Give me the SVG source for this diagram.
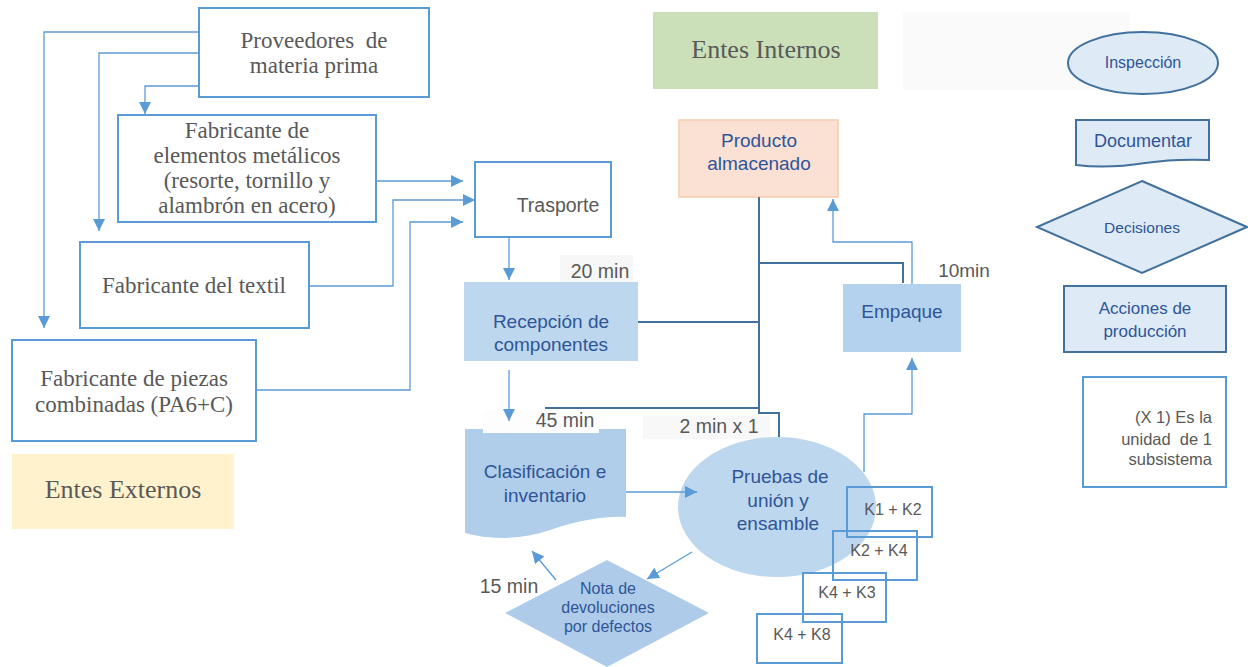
<svg xmlns="http://www.w3.org/2000/svg" width="1248" height="667" viewBox="0 0 1248 667">
<defs>
<marker id="ah" viewBox="0 0 10 10" refX="10" refY="5" markerWidth="12" markerHeight="12" markerUnits="userSpaceOnUse" orient="auto"><path d="M0,0 L10,5 L0,10 Z" fill="#5B9BD5"/></marker>
<style>
.ext{fill:#fff;stroke:#5B9BD5;stroke-width:2}
.ser{font-family:"Liberation Serif",serif;font-size:23px;fill:#595959;text-anchor:middle}
.sans{font-family:"Liberation Sans",Arial,sans-serif;fill:#595959;text-anchor:middle}
.blue{font-family:"Liberation Sans",Arial,sans-serif;fill:#2F5597;text-anchor:middle}
.lc{fill:none;stroke:#5B9BD5;stroke-width:1.3}
.dc{fill:none;stroke:#41719C;stroke-width:2}
.kb{fill:none;stroke:#5B9BD5;stroke-width:2}
.leg{fill:#DEEBF7;stroke:#41719C;stroke-width:2}
</style>
</defs>
<rect width="1248" height="667" fill="#fff"/>

<g id="proveedores"><rect class="ext" x="199" y="8" width="230" height="89"/>
<text class="ser" x="314" y="48" xml:space="preserve">Proveedores  de</text><text class="ser" x="314" y="73">materia prima</text></g>

<g id="fab-metalicos"><rect class="ext" x="118" y="115" width="258" height="107"/>
<text class="ser" x="247" y="138">Fabricante de</text><text class="ser" x="247" y="163">elementos metálicos</text>
<text class="ser" x="247" y="188">(resorte, tornillo y</text><text class="ser" x="247" y="213">alambrón en acero)</text></g>

<g id="fab-textil"><rect class="ext" x="80" y="242" width="229" height="86"/>
<text class="ser" x="194" y="293">Fabricante del textil</text></g>

<g id="fab-piezas"><rect class="ext" x="12" y="340" width="244" height="101"/>
<text class="ser" x="134" y="386">Fabricante de piezas</text><text class="ser" x="134" y="412">combinadas (PA6+C)</text></g>

<g id="entes-externos"><rect x="12" y="454" width="222" height="75" fill="#FFF2CC"/>
<text class="ser" x="123" y="498" font-size="26" style="font-size:26px">Entes Externos</text></g>

<g id="entes-internos"><rect x="653" y="12" width="225" height="77" fill="#CBE0B9"/>
<text class="ser" x="766" y="58" style="font-size:26px">Entes Internos</text></g>

<g id="blank"><rect x="903" y="12" width="227" height="78" fill="#FAFAFA"/></g>

<g id="trasporte"><rect class="ext" x="475" y="162" width="136" height="75"/>
<text class="sans" x="558" y="212" font-size="19.5">Trasporte</text></g>

<g id="label-20"><rect x="560" y="255" width="73" height="27" fill="#F7F7F7"/>
<text class="sans" x="600" y="278" font-size="19.5">20 min</text></g>

<g id="recepcion"><rect x="464" y="282" width="174" height="79" fill="#BDD7EE"/>
<text class="blue" x="551" y="328" font-size="19">Recepción de</text><text class="blue" x="551" y="351" font-size="19">componentes</text></g>

<g id="clasificacion"><path d="M465,429 H626 V517 C605,516 580,520 550,530 C520,540 490,540 465,533 Z" fill="#B0CDEA"/>
<text class="blue" x="545" y="478" font-size="19">Clasificación e</text><text class="blue" x="545" y="502" font-size="19">inventario</text></g>

<g id="label-45"><rect x="483" y="410" width="116" height="23" fill="#FDFDFD"/>
<text class="sans" x="565" y="427" font-size="19.5">45 min</text></g>

<g id="label-2min"><rect x="643" y="416" width="127" height="23" fill="#F8F8F8"/>
<text class="sans" x="719" y="433" font-size="19.5">2 min x 1</text></g>

<g id="pruebas"><ellipse cx="777" cy="507" rx="99" ry="70" fill="#BDD7EE"/>
<text class="blue" x="780" y="483" font-size="19">Pruebas de</text><text class="blue" x="778" y="507" font-size="19">unión y</text><text class="blue" x="778" y="530" font-size="19">ensamble</text></g>

<g id="producto"><rect x="679" y="120" width="159" height="77" fill="#FBE0D4" stroke="#F8CBAD" stroke-width="1.5"/>
<text class="blue" x="759" y="147" font-size="19">Producto</text><text class="blue" x="759" y="170" font-size="19">almacenado</text></g>

<g id="empaque"><rect x="843" y="284" width="118" height="68" fill="#B4D2EE"/>
<text class="blue" x="902" y="318" font-size="19">Empaque</text></g>

<text class="sans" x="964" y="277" font-size="19">10min</text>

<g id="nota"><path d="M607,560 L709,613 L607,667 L505,613 Z" fill="#AECCEA"/>
<text class="blue" x="608" y="594" font-size="16">Nota de</text><text class="blue" x="608" y="613" font-size="16">devoluciones</text><text class="blue" x="608" y="632" font-size="16">por defectos</text></g>

<text class="sans" x="509" y="593" font-size="19.5">15 min</text>

<g id="k1k2"><rect class="kb" x="847" y="487" width="85" height="50"/><text class="sans" x="893" y="515" font-size="16">K1 + K2</text></g>
<g id="k2k4"><rect class="kb" x="833" y="531" width="84" height="49"/><text class="sans" x="879" y="556" font-size="16">K2 + K4</text></g>
<g id="k4k3"><rect class="kb" x="803" y="573" width="83" height="49"/><text class="sans" x="847" y="598" font-size="16">K4 + K3</text></g>
<g id="k4k8"><rect class="kb" x="757" y="614" width="85" height="49"/><text class="sans" x="802" y="640" font-size="16">K4 + K8</text></g>

<g id="leg-inspeccion"><ellipse class="leg" cx="1143" cy="63" rx="75" ry="31"/>
<text class="blue" x="1143" y="68" font-size="16">Inspección</text></g>

<g id="leg-documentar"><path class="leg" d="M1076,120 H1209 V160 C1185,159 1165,160 1145,163 C1120,167 1100,168 1076,165 Z"/>
<text class="blue" x="1143" y="147" font-size="18">Documentar</text></g>

<g id="leg-decisiones"><path class="leg" d="M1142,181 L1247,227 L1142,273 L1037,227 Z"/>
<text class="blue" x="1142" y="233" font-size="15.5">Decisiones</text></g>

<g id="leg-acciones"><rect class="leg" x="1064" y="286" width="162" height="66"/>
<text class="blue" x="1145" y="314" font-size="17">Acciones de</text><text class="blue" x="1145" y="337" font-size="17">producción</text></g>

<g id="leg-nota"><rect class="kb" x="1083" y="377" width="143" height="110"/>
<text class="sans" x="1212" y="423" font-size="16.5" style="text-anchor:end">(X 1) Es la</text>
<text class="sans" x="1212" y="445" font-size="16.5" style="text-anchor:end" xml:space="preserve">unidad  de 1</text>
<text class="sans" x="1212" y="465" font-size="16.5" style="text-anchor:end">subsistema</text></g>

<g id="connectors">
<path class="lc" d="M199,32 H44 V328" marker-end="url(#ah)"/>
<path class="lc" d="M199,53 H99 V231" marker-end="url(#ah)"/>
<path class="lc" d="M199,86 H145 V114" marker-end="url(#ah)"/>
<path class="lc" d="M376,181 H463" marker-end="url(#ah)"/>
<path class="lc" d="M309,286 H393 V200 H475" marker-end="url(#ah)"/>
<path class="lc" d="M256,390 H410 V222 H463" marker-end="url(#ah)"/>
<path class="lc" d="M509,237 V280" marker-end="url(#ah)"/>
<path class="lc" d="M509,370 V421" marker-end="url(#ah)"/>
<path class="lc" d="M626,492 H697" marker-end="url(#ah)"/>
<path class="lc" d="M692,552 L647,579" marker-end="url(#ah)"/>
<path class="lc" d="M556,580 L532,551" marker-end="url(#ah)"/>
<path class="lc" d="M864,472 V414 H912 V358" marker-end="url(#ah)"/>
<path class="lc" d="M912,284 V242 H833 V199" marker-end="url(#ah)"/>
<path class="dc" d="M759,197 V413 H779 V437"/>
<path class="dc" d="M638,322 H759"/>
<path class="dc" d="M545,408 H759"/>
<path class="dc" d="M759,263 H903 V283"/>
</g>
</svg>
